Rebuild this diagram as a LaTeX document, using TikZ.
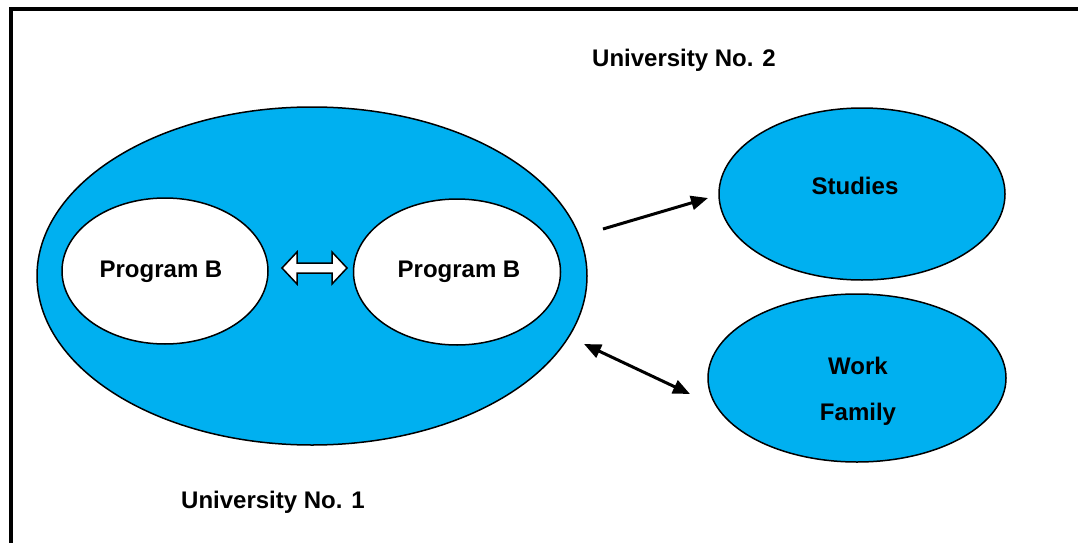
\documentclass[tikz,border=0pt]{standalone}
\usepackage{fontspec}
\setmainfont{Liberation Sans}
\usetikzlibrary{shapes.geometric,arrows.meta}
\definecolor{uniblue}{RGB}{0,176,240}
\begin{document}
\begin{tikzpicture}[x=1pt,y=-1pt,
  lbl/.style={font=\fontsize{24}{28}\selectfont\bfseries, inner sep=0pt},
  oval/.style={ellipse, draw=black, line width=1.5pt, inner sep=0pt},
  conn/.style={line width=3pt, -{Triangle[length=17pt,width=14pt]}},
  dconn/.style={line width=3pt, {Triangle[length=17pt,width=14pt]}-{Triangle[length=17pt,width=14pt]}}]
\useasboundingbox (0,0) rectangle (1078,543);
% frame (cropped)
\draw[line width=4pt, line cap=butt] (11,543) -- (11,9) -- (1078,9);
% big ellipse
\node[oval, fill=uniblue, minimum width=550pt, minimum height=338pt] (uni1) at (312,276) {};
\node[oval, fill=white, minimum width=206pt, minimum height=146pt] (pbl) at (165,271) {};
\node[oval, fill=white, minimum width=207pt, minimum height=146pt] (pbr) at (457,272) {};
\node[lbl] (tpl) at (161,272) {Program B};
\node[lbl] (tpr) at (459,272) {Program B};
% block double arrow
\draw[line width=1.5pt, fill=white, line join=miter]
  (282,268) -- (297,252) -- (297,263) -- (332,263) -- (332,252) -- (347,268)
  -- (332,284) -- (332,273) -- (297,273) -- (297,284) -- cycle;
% right ellipses
\node[oval, fill=uniblue, minimum width=286pt, minimum height=172pt] (stud) at (862,194) {};
\node[lbl] (tstud) at (855,186) {Studies};
\node[oval, fill=uniblue, minimum width=298pt, minimum height=168pt] (work) at (857,378) {};
\node[lbl] (twork) at (858,366) {Work};
\node[lbl] (tfam) at (858,414) {Family};
% labels
\node[lbl] (u2) at (684,60) {University No. 2};
\node[lbl] (u1) at (273,502) {University No. 1};
% connectors
\coordinate (a1s) at (603,229);
\coordinate (a1e) at (708,198);
\coordinate (a2s) at (584,344);
\coordinate (a2e) at (690,394);
\draw[conn] (a1s) -- (a1e);
\draw[dconn] (a2s) -- (a2e);
\end{tikzpicture}
\end{document}
